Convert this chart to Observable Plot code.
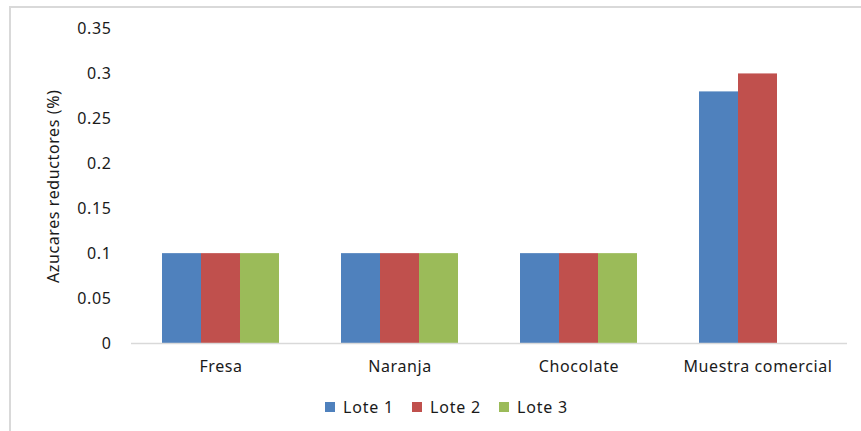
<!DOCTYPE html>
<html>
<head>
<meta charset="utf-8">
<script src="https://cdn.jsdelivr.net/npm/d3@7"></script>
<script src="https://cdn.jsdelivr.net/npm/@observablehq/plot@0.6"></script>
<style>
  body { margin: 0; background: #fff; font-family: "Noto Sans", sans-serif; }
  #frame { position: absolute; left: 9px; top: 6px; width: 860px; height: 430px;
           border-top: 2px solid #d9d9d9; border-left: 2px solid #d9d9d9; }
  #chart { position: absolute; left: 0; top: 0; }
  #legend { position: absolute; left: 325px; top: 396px; display: flex; align-items: center;
            font-size: 16px; letter-spacing: 0.8px; color: #1a1a1a; }
  #legend .item { display: flex; align-items: center; margin-right: 18px; }
  #legend .sw { width: 10px; height: 10px; margin-right: 8px; }
</style>
</head>
<body>
<div id="frame"></div>
<div id="chart"></div>
<div id="legend"></div>
<script>
// Reducing sugars (%) per product and batch
const categories = ["Fresa", "Naranja", "Chocolate", "Muestra comercial"];
const lotes = ["Lote 1", "Lote 2", "Lote 3"];
const lote1 = [0.1, 0.1, 0.1, 0.28];
const lote2 = [0.1, 0.1, 0.1, 0.30];
const lote3 = [0.1, 0.1, 0.1, null];
const colors = ["#4f81bd", "#c0504d", "#9bbb59"];
const yTicks = [0, 0.05, 0.1, 0.15, 0.2, 0.25, 0.3, 0.35];

const series = [lote1, lote2, lote3];
const rows = [];
categories.forEach((cat, i) => {
  series.forEach((vals, j) => {
    if (vals[i] != null) rows.push({cat, lote: lotes[j], value: vals[i]});
  });
});

const chart = Plot.plot({
  width: 861,
  height: 390,
  marginLeft: 130,
  marginRight: 13,
  marginTop: 28.5,
  marginBottom: 47,
  style: { fontFamily: "Noto Sans, sans-serif", fontSize: "16px", color: "#1a1a1a", background: "transparent", letterSpacing: "0.6px" },
  fx: { domain: categories, padding: 0, label: null, axis: "bottom", tickSize: 0, tickPadding: 17 },
  x: { domain: lotes, paddingInner: 0, paddingOuter: 0.75, axis: null },
  y: { domain: [0, 0.35], ticks: yTicks, tickSize: 0, tickPadding: 20,
       tickFormat: d => String(+d.toFixed(2)),
       label: "Azucares reductores (%)", labelArrow: "none", labelAnchor: "center", labelOffset: 84 },
  color: { domain: lotes, range: colors },
  marks: [
    Plot.barY(rows, { fx: "cat", x: "lote", y: "value", fill: "lote" }),
    Plot.ruleY([0], { stroke: "#d9d9d9", strokeWidth: 1.5 })
  ]
});
document.getElementById("chart").appendChild(chart);

const legend = document.getElementById("legend");
lotes.forEach((l, j) => {
  const item = document.createElement("div");
  item.className = "item";
  const sw = document.createElement("span");
  sw.className = "sw";
  sw.style.background = colors[j];
  const t = document.createElement("span");
  t.textContent = l;
  item.appendChild(sw);
  item.appendChild(t);
  legend.appendChild(item);
});
</script>
</body>
</html>
